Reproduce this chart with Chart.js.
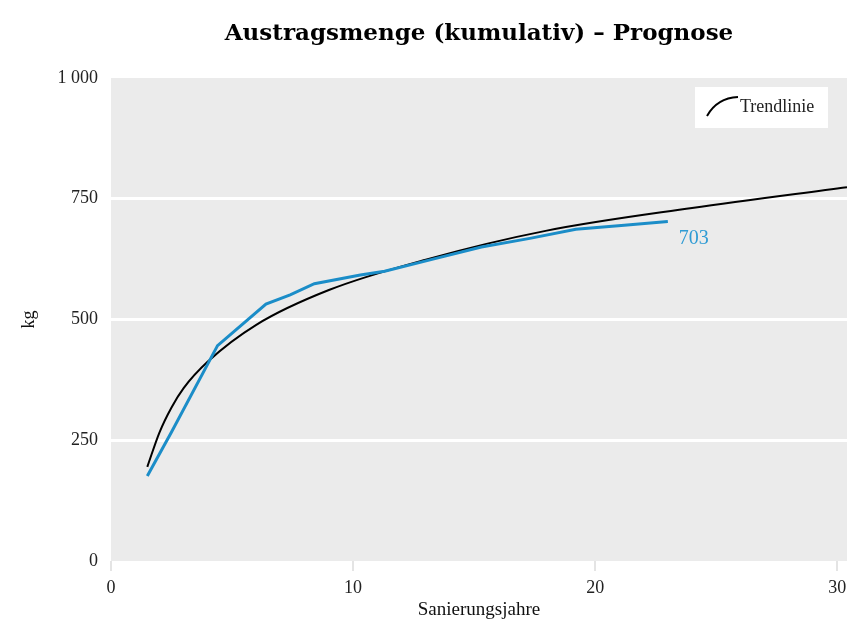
<!DOCTYPE html>
<html lang="de">
<head>
    <meta charset="UTF-8">
    <title>Austragsmenge (kumulativ) – Prognose</title>
    <script src="https://cdn.jsdelivr.net/npm/chart.js"></script>
    <style>
        html, body {
            margin: 0;
            padding: 0;
            background: #ffffff;
        }

        #chart {
            display: block;
        }
    </style>
</head>
<body>
    <canvas id="chart" width="847" height="621"></canvas>

    <script>
        // Gemessene Austragsmenge (blau)
        const measuredYears = [1.5, 2.5, 4.4, 6.4, 7.4, 8.4, 10.3, 11.3, 13.3, 15.3, 17.3, 19.2, 21.2, 23.0];
        const measuredKg = [176, 267, 446, 532, 551, 574, 592, 600, 625, 650, 668, 687, 695, 703];

        // Trendlinie
        const trendYears = [1.5, 2, 2.5, 3, 4, 6, 9, 13, 18, 24, 30.4];
        const trendKg = [195, 266, 318, 358, 413, 489, 561, 624, 684, 731, 774];

        const yTicks = [0, 250, 500, 750, 1000];
        const xTicks = [0, 10, 20, 30];

        const serif = "'Liberation Serif', 'DejaVu Serif', serif";
        const blue = '#1b8dc8';

        const toPoints = (xs, ys) => xs.map((x, i) => ({ x: x, y: ys[i] }));

        // grauer Hintergrund der Zeichenfläche
        const plotBackground = {
            id: 'plotBackground',
            beforeDraw(chart) {
                const { ctx, chartArea: a } = chart;
                ctx.save();
                ctx.fillStyle = '#ebebeb';
                ctx.fillRect(a.left, a.top, a.right - a.left, a.bottom - a.top);
                ctx.restore();
            }
        };

        // Legende oben rechts und Endwert-Beschriftung
        const annotations = {
            id: 'annotations',
            afterDatasetsDraw(chart) {
                const { ctx, chartArea: a } = chart;
                ctx.save();

                const bx = a.right - 152, by = a.top + 9;
                ctx.fillStyle = '#ffffff';
                ctx.fillRect(bx, by, 133, 41);
                ctx.strokeStyle = '#000000';
                ctx.lineWidth = 2;
                ctx.beginPath();
                ctx.moveTo(bx + 12, by + 29);
                ctx.quadraticCurveTo(bx + 22, by + 11, bx + 43, by + 10);
                ctx.stroke();
                ctx.fillStyle = '#222222';
                ctx.font = "18px " + serif;
                ctx.textBaseline = 'middle';
                ctx.fillText('Trendlinie', bx + 45, by + 20);

                const meta = chart.getDatasetMeta(0);
                const last = meta.data[meta.data.length - 1];
                ctx.fillStyle = '#2f9bd4';
                ctx.font = "20px " + serif;
                ctx.fillText(String(measuredKg[measuredKg.length - 1]), last.x + 11, last.y + 17);
                ctx.restore();
            }
        };

        new Chart(document.getElementById('chart'), {
            type: 'line',
            data: {
                datasets: [{
                    label: 'Austragsmenge',
                    data: toPoints(measuredYears, measuredKg),
                    borderColor: blue,
                    borderWidth: 3,
                    pointRadius: 0,
                    tension: 0
                }, {
                    label: 'Trendlinie',
                    data: toPoints(trendYears, trendKg),
                    borderColor: '#000000',
                    borderWidth: 2,
                    pointRadius: 0,
                    cubicInterpolationMode: 'monotone'
                }]
            },
            options: {
                responsive: false,
                animation: false,
                devicePixelRatio: 1,
                layout: { padding: 0 },
                plugins: {
                    legend: { display: false },
                    tooltip: { enabled: false },
                    title: {
                        display: true,
                        fullSize: false,
                        text: 'Austragsmenge (kumulativ) – Prognose',
                        color: '#000000',
                        font: { family: "'DejaVu Serif', serif", size: 23, weight: 'bold', lineHeight: 1.2 },
                        padding: { top: 20, bottom: 30.4 }
                    }
                },
                scales: {
                    x: {
                        type: 'linear',
                        min: 0,
                        max: 30.4,
                        afterFit: s => { s.height = 60; s.paddingRight = 0; s.paddingLeft = 0; },
                        afterBuildTicks: s => { s.ticks = xTicks.map(v => ({ value: v })); },
                        border: { display: false },
                        grid: {
                            drawOnChartArea: false,
                            drawTicks: true,
                            tickLength: 10,
                            color: '#e4e4e4',
                            lineWidth: 2
                        },
                        ticks: {
                            color: '#222222',
                            padding: 6,
                            font: { family: serif, size: 18 }
                        },
                        title: {
                            display: true,
                            text: 'Sanierungsjahre',
                            color: '#111111',
                            padding: { top: 0, bottom: 0 },
                            font: { family: serif, size: 19 }
                        }
                    },
                    y: {
                        min: 0,
                        max: 1000,
                        afterFit: s => { s.width = 111; },
                        afterBuildTicks: s => { s.ticks = yTicks.map(v => ({ value: v })); },
                        border: { display: false },
                        grid: {
                            drawTicks: false,
                            color: ctx => (ctx.tick && (ctx.tick.value === 0 || ctx.tick.value === 1000)) ? 'rgba(0,0,0,0)' : '#ffffff',
                            lineWidth: 3
                        },
                        ticks: {
                            color: '#222222',
                            padding: 13,
                            font: { family: serif, size: 18 },
                            callback: v => String(v).replace(/\B(?=(\d{3})+(?!\d))/g, ' ')
                        },
                        title: {
                            display: true,
                            text: 'kg',
                            color: '#111111',
                            padding: { top: 18, bottom: 0 },
                            font: { family: serif, size: 18 }
                        }
                    }
                }
            },
            plugins: [plotBackground, annotations]
        });
    </script>
</body>
</html>
